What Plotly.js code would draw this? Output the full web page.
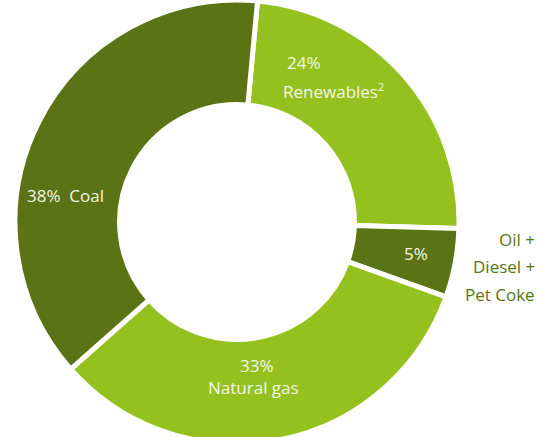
<!DOCTYPE html>
<html>
<head>
<meta charset="utf-8">
<script src="https://cdn.plot.ly/plotly-3.0.1.min.js"></script>
<style>
html, body { margin: 0; padding: 0; overflow: hidden; background: #ffffff; }
#chart { width: 552px; height: 460px; }
</style>
</head>
<body>
<div id="chart"></div>
<script>
// ---- data ----
const categories = ['Renewables', 'Oil + Diesel + Pet Coke', 'Natural gas', 'Coal'];
const values = [24, 5, 33, 38];
const sliceColors = ['#95C11F', '#5A7314', '#95C11F', '#5A7314'];
const inLabelNames = ['Renewables<sup><span style="font-size:11px">2</span></sup>', null, 'Natural gas', 'Coal'];
const outsideLabelLines = ['Oil +', 'Diesel +', 'Pet Coke'];

// ---- layout helpers ----
const W = 552, H = 460;
const px = x => x / W;
const py = y => (H - y) / H;
const cx = 237, cy = 222, R = 222;

const FONT = 'Open Sans, sans-serif';
const FS = 17;
const inColor = '#F2F6E4';
const darkText = '#5A7314';

function ann(text, x, y, opts) {
  return Object.assign({
    text: text, x: px(x), y: py(y), xref: 'paper', yref: 'paper',
    showarrow: false, xanchor: 'center', yanchor: 'middle',
    font: {family: FONT, size: FS, color: inColor}
  }, opts || {});
}
const dark = {family: FONT, size: FS, color: darkText};

const annotations = [
  ann(values[0] + '%', 304, 63),
  ann(inLabelNames[0], 281, 91, {xanchor: 'left'}),
  ann(values[1] + '%', 416, 254),
  ann(values[2] + '%', 257, 365),
  ann(inLabelNames[2], 253, 387),
  ann(values[3] + '%&nbsp;&nbsp;' + inLabelNames[3], 25, 195, {xanchor: 'left'}),
  ann(outsideLabelLines[0], 537, 239, {xanchor: 'right', font: dark}),
  ann(outsideLabelLines[1], 537, 266, {xanchor: 'right', font: dark}),
  ann(outsideLabelLines[2], 537, 294, {xanchor: 'right', font: dark})
];

const trace = {
  type: 'pie',
  labels: categories,
  values: values,
  sort: false,
  direction: 'clockwise',
  rotation: 5.3,
  hole: 0.529,
  textinfo: 'none',
  hoverinfo: 'label+percent',
  marker: {colors: sliceColors, line: {color: '#ffffff', width: 5}},
  domain: {x: [px(cx - R), px(cx + R)], y: [py(cy + R), py(cy - R)]},
  showlegend: false
};

const layout = {
  width: W, height: H,
  margin: {l: 0, r: 0, t: 0, b: 0, pad: 0},
  paper_bgcolor: '#ffffff',
  plot_bgcolor: '#ffffff',
  showlegend: false,
  annotations: annotations
};

Plotly.newPlot('chart', [trace], layout, {displayModeBar: false, staticPlot: true});
</script>
</body>
</html>
